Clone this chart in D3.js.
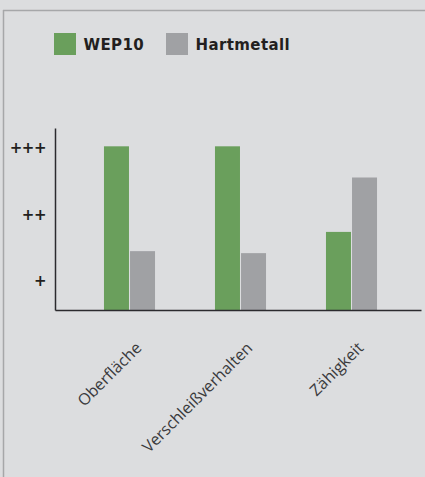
<!DOCTYPE html>
<html>
<head>
<meta charset="utf-8">
<script src="https://cdn.jsdelivr.net/npm/d3@7"></script>
<style>
  html, body { margin: 0; padding: 0; background: #dcdddf; }
  svg { display: block; }
</style>
</head>
<body>
<svg id="chart" width="425" height="477"></svg>
<script>
const categories = ["Oberfläche", "Verschleißverhalten", "Zähigkeit"];
const seriesNames = ["WEP10", "Hartmetall"];
const wep10 = [3.03, 3.03, 1.74];
const hartmetall = [1.45, 1.42, 2.56];
const tickValues = [1, 2, 3];
const tickLabels = ["+", "++", "+++"];
const colors = ["#6a9f5c", "#a0a1a4"];

const svg = d3.select("#chart");
const W = 425, H = 477;

svg.append("rect").attr("width", W).attr("height", H).attr("fill", "#dcdddf");
// frame lines (top and left)
svg.append("line").attr("x1", 3).attr("x2", W).attr("y1", 10.5).attr("y2", 10.5)
  .attr("stroke", "#a6a7a9").attr("stroke-width", 1.5);
svg.append("line").attr("x1", 3.5).attr("x2", 3.5).attr("y1", 10).attr("y2", H)
  .attr("stroke", "#a6a7a9").attr("stroke-width", 1.5);

const x0 = d3.scaleBand().domain(categories).range([74, 407]).paddingInner(0.54).paddingOuter(0.27);
const x1 = d3.scaleBand().domain(seriesNames).range([0, x0.bandwidth()]).paddingInner(0.04);
const y = d3.scaleLinear().domain([0.563, 3.306]).range([310, 128]);

const data = categories.map((c, i) => ({ cat: c, values: [
  { key: seriesNames[0], value: wep10[i] },
  { key: seriesNames[1], value: hartmetall[i] }
]}));

const g = svg.append("g");
g.selectAll("g.grp").data(data).join("g").attr("class", "grp")
  .attr("transform", d => `translate(${x0(d.cat)},0)`)
  .selectAll("rect").data(d => d.values).join("rect")
  .attr("x", d => x1(d.key))
  .attr("width", x1.bandwidth())
  .attr("y", d => y(d.value))
  .attr("height", d => y.range()[0] - y(d.value))
  .attr("fill", (d, i) => colors[i]);

// Y axis
const yAxis = d3.axisLeft(y).tickValues(tickValues).tickSize(0).tickPadding(9)
  .tickFormat((d, i) => tickLabels[i]);
const yg = svg.append("g").attr("transform", "translate(55,0)").call(yAxis);
yg.select(".domain").attr("stroke", "#2b2a2e").attr("stroke-width", 1.5);
yg.selectAll("text").attr("font-family", "DejaVu Sans").attr("font-weight", "bold")
  .attr("font-size", 15).attr("fill", "#231f20").attr("dy", "0.31em")
  .attr("letter-spacing", -0.5);

// X axis
const xAxis = d3.axisBottom(x0.copy().range([55, 421])).tickSize(0).tickFormat("");
const xg = svg.append("g").attr("transform", "translate(0,310)").call(xAxis);
xg.select(".domain").attr("stroke", "#2b2a2e").attr("stroke-width", 1.5);
xg.selectAll(".tick").remove();

// category labels
svg.append("g").selectAll("text").data(categories).join("text")
  .attr("transform", d => `translate(${x0(d) + x0.bandwidth() / 2 + 13},349) rotate(-45)`)
  .attr("text-anchor", "end")
  .attr("font-family", "Open Sans")
  .attr("font-size", 16)
  .attr("fill", "#3a3a3c")
  .text(d => d);

// legend
const legendX = [54, 166];
const lg = svg.append("g").selectAll("g").data(seriesNames).join("g")
  .attr("transform", (d, i) => `translate(${legendX[i]},33)`);
lg.append("rect").attr("width", 22).attr("height", 22).attr("fill", (d, i) => colors[i]);
lg.append("text").attr("x", 29.5).attr("y", 17.4)
  .attr("font-family", "DejaVu Sans").attr("font-weight", "bold").attr("font-size", 15)
  .attr("letter-spacing", 0.4).attr("fill", "#231f20")
  .text(d => d);
</script>
</body>
</html>
